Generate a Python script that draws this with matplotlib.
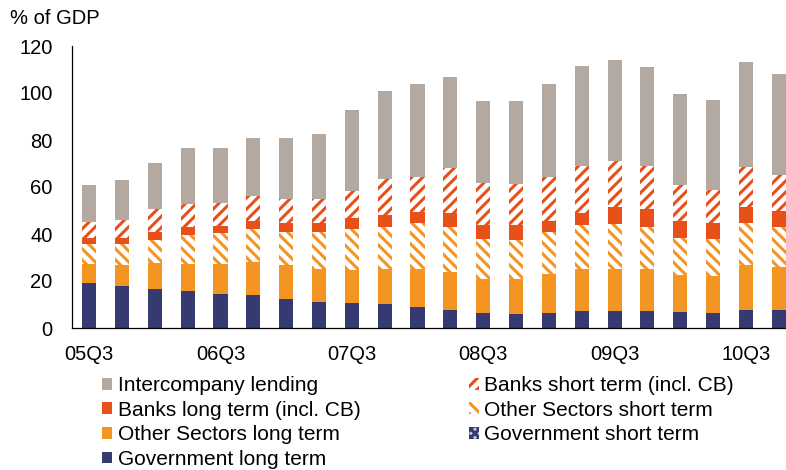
import numpy as np
import matplotlib
matplotlib.use("Agg")
import matplotlib.pyplot as plt
from matplotlib.patches import Patch

plt.rcParams["font.family"] = ["Liberation Sans", "DejaVu Sans"]
plt.rcParams["hatch.linewidth"] = 2.2

QUARTERS = ["05Q3", "05Q4", "06Q1", "06Q2", "06Q3", "06Q4", "07Q1", "07Q2",
            "07Q3", "07Q4", "08Q1", "08Q2", "08Q3", "08Q4", "09Q1", "09Q2",
            "09Q3", "09Q4", "10Q1", "10Q2", "10Q3", "10Q4"]
SHOWN = ["05Q3", "06Q3", "07Q3", "08Q3", "09Q3", "10Q3"]

gov_long = [19.0, 17.9, 16.5, 15.9, 14.5, 13.9, 12.3, 11.2, 10.6, 10.2, 8.8,
            7.8, 6.4, 6.0, 6.4, 7.4, 7.4, 7.2, 6.8, 6.5, 7.8, 7.5]
gov_short = [0.0] * 22
oth_long = [8.2, 8.9, 11.0, 11.5, 12.9, 14.3, 14.4, 14.0, 14.2, 15.0, 16.4,
            16.2, 14.6, 15.0, 16.7, 17.7, 17.7, 17.9, 15.6, 15.6, 19.1, 18.3]
oth_short = [8.5, 8.9, 9.9, 12.2, 12.9, 13.9, 14.3, 15.5, 17.3, 17.8, 19.3,
             18.8, 17.0, 16.4, 17.6, 18.7, 19.2, 17.7, 15.8, 15.9, 17.6, 17.3]
bank_long = [2.5, 2.5, 3.3, 3.5, 3.2, 3.6, 3.5, 4.1, 4.8, 5.1, 5.0,
             6.1, 5.7, 6.3, 4.8, 5.0, 7.1, 8.0, 7.5, 6.5, 6.9, 6.6]
bank_short = [7.0, 7.8, 9.8, 9.8, 9.7, 10.5, 10.4, 10.1, 11.5, 15.2, 14.8,
              19.2, 18.1, 17.6, 18.9, 20.1, 19.5, 18.1, 15.0, 14.2, 17.0, 15.3]
interco = [15.5, 16.8, 19.8, 23.7, 23.4, 24.8, 26.0, 27.7, 34.4, 37.7, 39.5,
           38.6, 34.9, 35.4, 39.6, 42.7, 43.0, 42.0, 38.7, 38.3, 44.9, 43.0]

NAVY = "#353A70"
ORANGE = "#F39423"
RED = "#E8501A"
GREY = "#B3A9A1"

# (values, label, face, hatch colour, hatch)
series = [
    (gov_long, "Government long term", NAVY, NAVY, None),
    (gov_short, "Government short term", "#C9CCE0", NAVY, "xxxx"),
    (oth_long, "Other Sectors long term", ORANGE, ORANGE, None),
    (oth_short, "Other Sectors short term", "white", ORANGE, "\\\\\\"),
    (bank_long, "Banks long term (incl. CB)", RED, RED, None),
    (bank_short, "Banks short term (incl. CB)", "white", RED, "///"),
    (interco, "Intercompany lending", GREY, GREY, None),
]

fig = plt.figure(figsize=(7.86, 4.70), dpi=100)
ax = fig.add_axes([72 / 786, 1 - 328 / 470, 1 - 72 / 786, (328 - 46) / 470])

x = np.arange(len(QUARTERS))
bottom = np.zeros(len(QUARTERS))
handles = {}
for vals, label, face, hc, hatch in series:
    v = np.array(vals)
    ax.bar(x, v, 0.43, bottom=bottom, color=face, edgecolor=hc,
           hatch=hatch, linewidth=0)
    handles[label] = Patch(facecolor=face, edgecolor=hc, hatch=hatch, linewidth=0)
    bottom += v

ax.set_xlim(-0.52, 21.22)
ax.set_ylim(0, 120)
ax.set_yticks(range(0, 121, 20))
ax.set_xticks([QUARTERS.index(q) for q in SHOWN])
ax.set_xticklabels(SHOWN)
ax.tick_params(axis="both", length=0, labelsize=14.5)
ax.tick_params(axis="y", pad=14)
ax.tick_params(axis="x", pad=12)
for s in ("top", "right"):
    ax.spines[s].set_visible(False)
ax.spines["left"].set_linewidth(0.9)
ax.spines["bottom"].set_linewidth(0.9)

fig.text(10 / 786, 1 - 18 / 470, "% of GDP", fontsize=14.5, va="center", ha="left")

order = ["Intercompany lending", "Banks long term (incl. CB)",
         "Other Sectors long term", "Government long term",
         "Banks short term (incl. CB)", "Other Sectors short term",
         "Government short term"]
fig.legend([handles[k] for k in order], order, ncol=2, frameon=False,
           fontsize=15, loc="upper left", bbox_to_anchor=(102 / 786, 1 - 376 / 470),
           handlelength=0.5, handleheight=0.5, handletextpad=0.25,
           columnspacing=5.2, labelspacing=0.27, borderaxespad=0, borderpad=0)

fig.savefig("out.png", dpi=100)
